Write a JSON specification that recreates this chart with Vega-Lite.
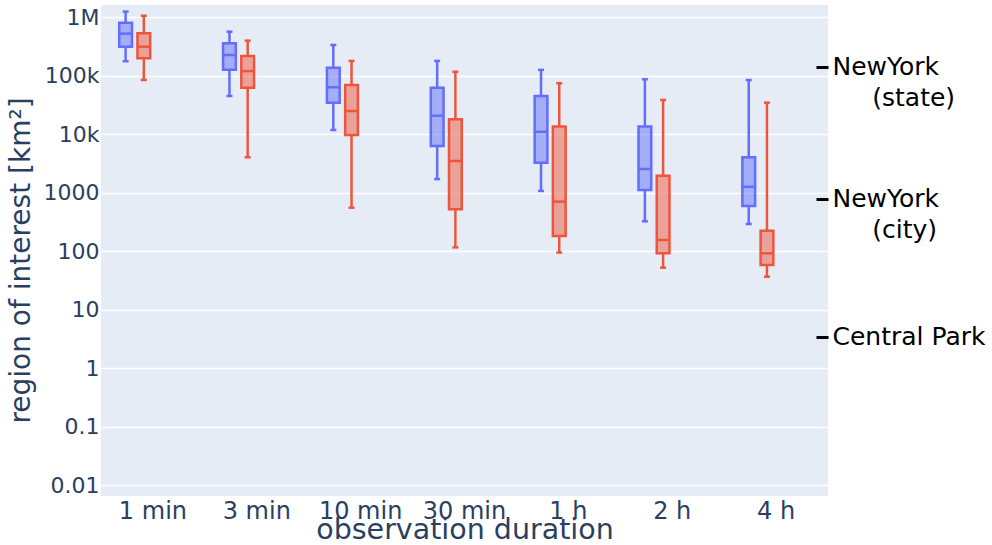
{
  "$schema": "https://vega.github.io/schema/vega-lite/v6.json",
  "width": 727,
  "height": 491,
  "autosize": {"type": "none"},
  "padding": {"left": 101, "top": 5, "right": 164, "bottom": 49},
  "background": "white",
  "config": {"font": "DejaVu Sans", "view": {"fill": "#E5ECF6", "stroke": null}},
  "datasets": {
    "boxes": [
      {"dur": "1 min", "grp": "A", "min": 177000, "q1": 314000, "med": 524000, "q3": 809000, "max": 1250000},
      {"dur": "1 min", "grp": "B", "min": 84500, "q1": 199000, "med": 314000, "q3": 532000, "max": 1060000},
      {"dur": "3 min", "grp": "A", "min": 45000, "q1": 126000, "med": 226000, "q3": 359000, "max": 567000},
      {"dur": "3 min", "grp": "B", "min": 4030, "q1": 62500, "med": 120000, "q3": 218000, "max": 398000},
      {"dur": "10 min", "grp": "A", "min": 11800, "q1": 34600, "med": 63500, "q3": 137000, "max": 336000},
      {"dur": "10 min", "grp": "B", "min": 553, "q1": 9700, "med": 24900, "q3": 69500, "max": 179000},
      {"dur": "30 min", "grp": "A", "min": 1710, "q1": 6280, "med": 20700, "q3": 62500, "max": 179000},
      {"dur": "30 min", "grp": "B", "min": 116, "q1": 520, "med": 3480, "q3": 18000, "max": 117000},
      {"dur": "1 h", "grp": "A", "min": 1070, "q1": 3260, "med": 11000, "q3": 45000, "max": 126000},
      {"dur": "1 h", "grp": "B", "min": 94.6, "q1": 182, "med": 702, "q3": 13500, "max": 74300},
      {"dur": "2 h", "grp": "A", "min": 324, "q1": 1110, "med": 2540, "q3": 13500, "max": 86900},
      {"dur": "2 h", "grp": "B", "min": 52.1, "q1": 91.9, "med": 155, "q3": 1950, "max": 38500},
      {"dur": "4 h", "grp": "A", "min": 291, "q1": 592, "med": 1260, "q3": 4030, "max": 84500},
      {"dur": "4 h", "grp": "B", "min": 36.6, "q1": 58, "med": 91.9, "q3": 224, "max": 34600}
    ],
    "landmarks": [
      {"name": "NewYork (state)", "area": 141300},
      {"name": "NewYork (city)", "area": 783.8},
      {"name": "Central Park", "area": 3.41}
    ]
  },
  "layer": [
    {
      "data": {"name": "boxes"},
      "layer": [
        {
          "mark": {"type": "rule", "strokeWidth": 2.5},
          "encoding": {
            "x": {
              "field": "dur",
              "type": "nominal",
              "scale": {"domain": ["1 min", "3 min", "10 min", "30 min", "1 h", "2 h", "4 h"], "paddingInner": 0, "paddingOuter": 0},
              "axis": {
                "labelAngle": 0,
                "labelFontSize": 24,
                "labelColor": "#2a3f5f",
                "labelPadding": 3,
                "domain": false,
                "ticks": false,
                "grid": false,
                "title": "observation duration",
                "titleFontSize": 28.5,
                "titleFontWeight": "normal",
                "titleColor": "#2a3f5f",
                "titlePadding": -8
              }
            },
            "xOffset": {"field": "grp", "type": "nominal", "scale": {"domain": ["A", "B", "C", "D"], "paddingInner": 0.3, "paddingOuter": 1}},
            "stroke": {"field": "grp", "type": "nominal", "scale": {"domain": ["A", "B"], "range": ["#636efa", "#EF553B"]}, "legend": null},
            "y": {
              "field": "min",
              "type": "quantitative",
              "scale": {"type": "log", "domain": [0.00649, 1620000], "nice": false, "zero": false},
              "axis": {
                "orient": "left",
                "values": [0.01, 0.1, 1, 10, 100, 1000, 10000, 100000, 1000000],
                "labelExpr": "datum.value >= 1000000 ? '1M' : datum.value >= 10000 ? format(datum.value / 1000, 'd') + 'k' : datum.value >= 1 ? format(datum.value, 'd') : format(datum.value, '.2~f')",
                "labelFontSize": 22,
                "labelColor": "#2a3f5f",
                "labelPadding": 2,
                "domain": false,
                "ticks": false,
                "grid": true,
                "gridColor": "white",
                "gridWidth": 1.5,
                "title": "region of interest [km²]",
                "titleFontSize": 28,
                "titleFontWeight": "normal",
                "titleColor": "#2a3f5f",
                "titlePadding": 8,
                "titleY": 255
              }
            },
            "y2": {"field": "q1"}
          }
        },
        {
          "mark": {"type": "rule", "strokeWidth": 2.5},
          "encoding": {
            "x": {"field": "dur", "type": "nominal"},
            "xOffset": {"field": "grp", "type": "nominal"},
            "stroke": {"field": "grp", "type": "nominal", "legend": null},
            "y": {"field": "q3", "type": "quantitative"},
            "y2": {"field": "max"}
          }
        },
        {
          "mark": {"type": "bar", "opacity": 1, "fillOpacity": 0.5, "strokeWidth": 2.5},
          "encoding": {
            "x": {"field": "dur", "type": "nominal"},
            "xOffset": {"field": "grp", "type": "nominal"},
            "stroke": {"field": "grp", "type": "nominal", "legend": null},
            "fill": {"field": "grp", "type": "nominal", "scale": {"domain": ["A", "B"], "range": ["#636efa", "#EF553B"]}, "legend": null},
            "y": {"field": "q1", "type": "quantitative"},
            "y2": {"field": "q3"}
          }
        },
        {
          "mark": {"type": "tick", "opacity": 1, "size": 13, "thickness": 2.5},
          "encoding": {
            "x": {"field": "dur", "type": "nominal"},
            "xOffset": {"field": "grp", "type": "nominal"},
            "fill": {"field": "grp", "type": "nominal", "legend": null},
            "y": {"field": "med", "type": "quantitative"}
          }
        },
        {
          "mark": {"type": "tick", "opacity": 1, "size": 6, "thickness": 2.5},
          "encoding": {
            "x": {"field": "dur", "type": "nominal"},
            "xOffset": {"field": "grp", "type": "nominal"},
            "fill": {"field": "grp", "type": "nominal", "legend": null},
            "y": {"field": "min", "type": "quantitative"}
          }
        },
        {
          "mark": {"type": "tick", "opacity": 1, "size": 6, "thickness": 2.5},
          "encoding": {
            "x": {"field": "dur", "type": "nominal"},
            "xOffset": {"field": "grp", "type": "nominal"},
            "fill": {"field": "grp", "type": "nominal", "legend": null},
            "y": {"field": "max", "type": "quantitative"}
          }
        }
      ]
    },
    {
      "data": {"name": "landmarks"},
      "mark": {"type": "point", "opacity": 0},
      "encoding": {
        "y": {
          "field": "area",
          "type": "quantitative",
          "axis": {
            "orient": "right",
            "values": [141300, 783.8, 3.41],
            "labelExpr": "datum.value > 10000 ? ['NewYork', '\u200b\u00a0\u00a0\u00a0\u00a0\u00a0(state)'] : datum.value > 100 ? ['NewYork', '\u200b\u00a0\u00a0\u00a0\u00a0\u00a0(city)'] : 'Central Park'",
            "labelFontSize": 25,
            "labelColor": "black",
            "labelAlign": "left",
            "labelLineHeight": 31,
            "labelOverlap": false,
            "labelBound": false,
            "labelFlush": false,
            "labelPadding": 16,
            "tickColor": "black",
            "tickSize": -12,
            "tickWidth": 3,
            "domain": false,
            "grid": false,
            "title": null
          }
        }
      }
    }
  ],
  "resolve": {"scale": {"y": "shared"}, "axis": {"y": "independent"}}
}
